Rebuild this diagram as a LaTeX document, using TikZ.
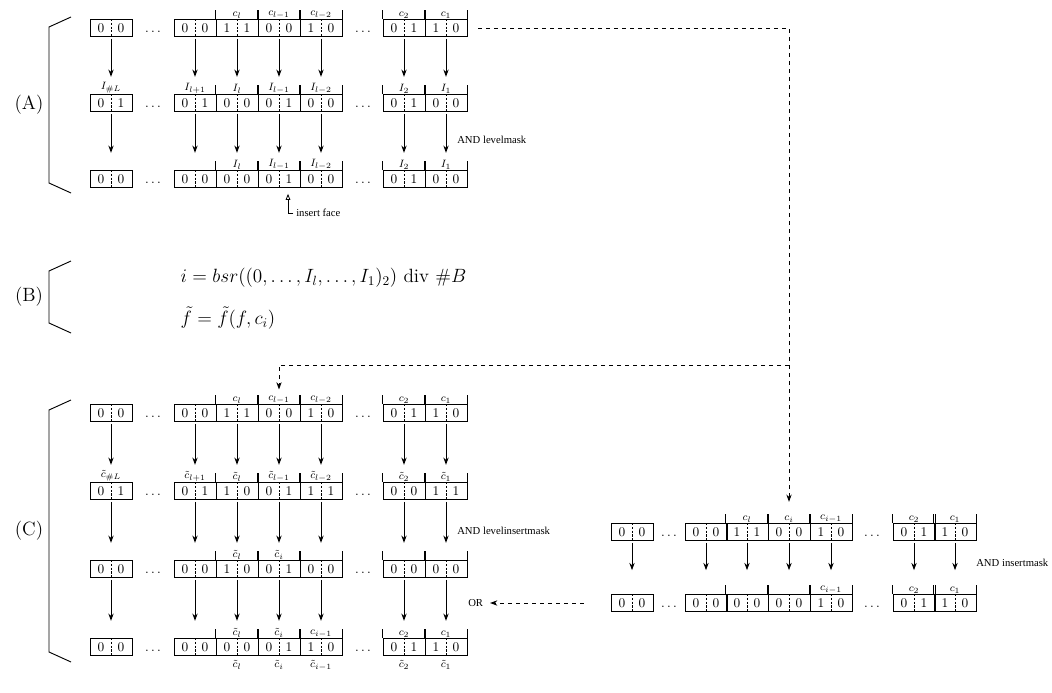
\documentclass[tikz,border=0pt]{standalone}
\usepackage{amsmath}
\usepackage{fontspec}
\newfontfamily\notefont{Liberation Serif}
\usetikzlibrary{arrows.meta}

\tikzset{
  bitcell/.style={draw, line width=0.75pt, minimum width=31.5pt, minimum height=12.5pt, inner sep=0pt},
  divider/.style={line width=0.6pt, dash pattern=on 1.6pt off 1.2pt},
  tick/.style={line width=0.75pt},
  toplabel/.style={above, font=\footnotesize, inner sep=0.5pt},
  botlabel/.style={below, font=\footnotesize, inner sep=3.5pt},
  downarrow/.style={-{Stealth[length=5.5pt, width=4pt]}, line width=0.75pt, shorten <=1.5pt, shorten >=13pt},
  longarrow/.style={downarrow, shorten >=18pt},
  flow/.style={dashed, line width=0.7pt, -{Stealth[length=5.5pt, width=4pt]}},
  note/.style={anchor=west, font=\notefont\footnotesize, inner sep=0pt}
}

% one row of bit cells: name, y, cells x/bit/bit/label, dots x
\newcommand{\bitrow}[4]{%
  \foreach \cx/\a/\b/\lab [count=\k] in {#3} {
    \node[bitcell] (#1-\k) at (\cx,#2) {\a\hspace{10pt}\b};
    \draw[divider] (#1-\k.north) -- (#1-\k.south);
    \ifnum\k>2
      \draw[tick] (#1-\k.north west) -- ++(0,-9);
      \draw[tick] (#1-\k.north east) -- ++(0,-9);
    \fi
    \node[toplabel] (#1-\k-lab) at (#1-\k.north) {\lab};
  }
  \foreach \dx [count=\k] in {#4}
    \node[anchor=base, inner sep=0pt] (#1-dots\k) at (\dx,#2+4.3) {$\ldots$};
}

\begin{document}
\begin{tikzpicture}[x=0.75pt, y=-0.75pt]
    \useasboundingbox (0,0) rectangle (1052,692);

    % (A)
    \draw[line width=0.7pt] (71,17) -- (49,27) -- (49,183) -- (71,193);
    \node[font=\Large] (secA) at (29,105) {(A)};

    \bitrow{a1}{28}{111/0/0/{}, 195/0/0/{}, 237/1/1/{$c_l$}, 279/0/0/{$c_{l-1}$}, 321/1/0/{$c_{l-2}$}, 404/0/1/{$c_2$}, 446/1/0/{$c_1$}}{153,363}
    \bitrow{a2}{103}{111/0/1/{$I_{\#L}$}, 195/0/1/{$I_{l+1}$}, 237/0/0/{$I_l$}, 279/0/1/{$I_{l-1}$}, 321/0/0/{$I_{l-2}$}, 404/0/1/{$I_2$}, 446/0/0/{$I_1$}}{153,363}
    \bitrow{a3}{179}{111/0/0/{}, 195/0/0/{}, 237/0/0/{$I_l$}, 279/0/1/{$I_{l-1}$}, 321/0/0/{$I_{l-2}$}, 404/0/1/{$I_2$}, 446/0/0/{$I_1$}}{153,363}

    \foreach \k in {1,...,7} {
        \draw[downarrow] (a1-\k) -- (a2-\k);
        \draw[downarrow] (a2-\k) -- (a3-\k);
    }
    \node[note] (levelmask) at (457,140) {AND levelmask};

    \node[note] (facenote) at (296,213) {insert face};
    \coordinate (facetip) at ([xshift=6.75pt, yshift=-4.5pt]a3-4.south);
    \draw[line width=0.6pt, -{Triangle[open, length=4.5pt, width=3.5pt]}] ([xshift=-2pt]facenote.west) -| (facetip);

    % (B)
    \draw[line width=0.7pt] (71,261) -- (49,271) -- (49,323) -- (71,333);
    \node[font=\Large] (secB) at (29,297) {(B)};
    \node[anchor=west, font=\Large] (bsr) at (176,278) {$i = bsr((0,\dots,I_l,\dots,I_1)_2)\ \mathrm{div}\ \#B$};
    \node[anchor=west, font=\Large] (ftilde) at (176,318) {$\tilde{f} = \tilde{f}(f,c_i)$};

    % (C)
    \draw[line width=0.7pt] (71,400) -- (49,410) -- (49,652) -- (71,662);
    \node[font=\Large] (secC) at (29,531) {(C)};

    \bitrow{c1}{413}{111/0/0/{}, 195/0/0/{}, 237/1/1/{$c_l$}, 279/0/0/{$c_{l-1}$}, 321/1/0/{$c_{l-2}$}, 404/0/1/{$c_2$}, 446/1/0/{$c_1$}}{153,363}
    \bitrow{c2}{491}{111/0/1/{$\tilde c_{\#L}$}, 195/0/1/{$\tilde c_{l+1}$}, 237/1/0/{$\tilde c_l$}, 279/0/1/{$\tilde c_{l-1}$}, 321/1/1/{$\tilde c_{l-2}$}, 404/0/0/{$\tilde c_2$}, 446/1/1/{$\tilde c_1$}}{153,363}
    \bitrow{c3}{569}{111/0/0/{}, 195/0/0/{}, 237/1/0/{$\tilde c_l$}, 279/0/1/{$\tilde c_i$}, 321/0/0/{}, 404/0/0/{}, 446/0/0/{}}{153,363}
    \bitrow{c4}{647}{111/0/0/{}, 195/0/0/{}, 237/0/0/{$\tilde c_l$}, 279/0/1/{$\tilde c_i$}, 321/1/0/{$c_{i-1}$}, 404/0/1/{$c_2$}, 446/1/0/{$c_1$}}{153,363}

    \foreach \k in {1,...,7} {
        \draw[downarrow] (c1-\k) -- (c2-\k);
        \draw[downarrow] (c2-\k) -- (c3-\k);
        \draw[downarrow] (c3-\k) -- (c4-\k);
    }
    \foreach \k/\lab in {3/{$\tilde c_l$}, 4/{$\tilde c_i$}, 5/{$\tilde c_{i-1}$}, 6/{$\tilde c_2$}, 7/{$\tilde c_1$}}
        \node[botlabel] (c4-\k-below) at (c4-\k.south) {\lab};
    \node[note] (levelinsertmask) at (457,531) {AND levelinsertmask};

    % right part
    \bitrow{d1}{532}{632/0/0/{}, 706/0/0/{}, 747/1/1/{$c_l$}, 789/0/0/{$c_i$}, 831/1/0/{$c_{i-1}$}, 914/0/1/{$c_2$}, 955/1/0/{$c_1$}}{669,872}
    \bitrow{d2}{603}{632/0/0/{}, 706/0/0/{}, 747/0/0/{}, 789/0/0/{}, 831/1/0/{$c_{i-1}$}, 914/0/1/{$c_2$}, 955/1/0/{$c_1$}}{669,872}

    \foreach \k in {1,...,7}
        \draw[longarrow] (d1-\k) -- (d2-\k);
    \node[note] (insertmask) at (976,563) {AND insertmask};

    % dashed connections
    \coordinate (fork) at (789,365);
    \draw[flow, shorten <=8pt, shorten >=16pt] (a1-7.east) -| (d1-4.north);
    \draw[flow, shorten >=11pt] (fork) -| (c1-4.north);
    \node[note] (ornote) at (468,603) {OR};
    \draw[flow, shorten <=20pt, shorten >=5pt] (d2-1.west) -- (ornote.east);
\end{tikzpicture}
\end{document}
